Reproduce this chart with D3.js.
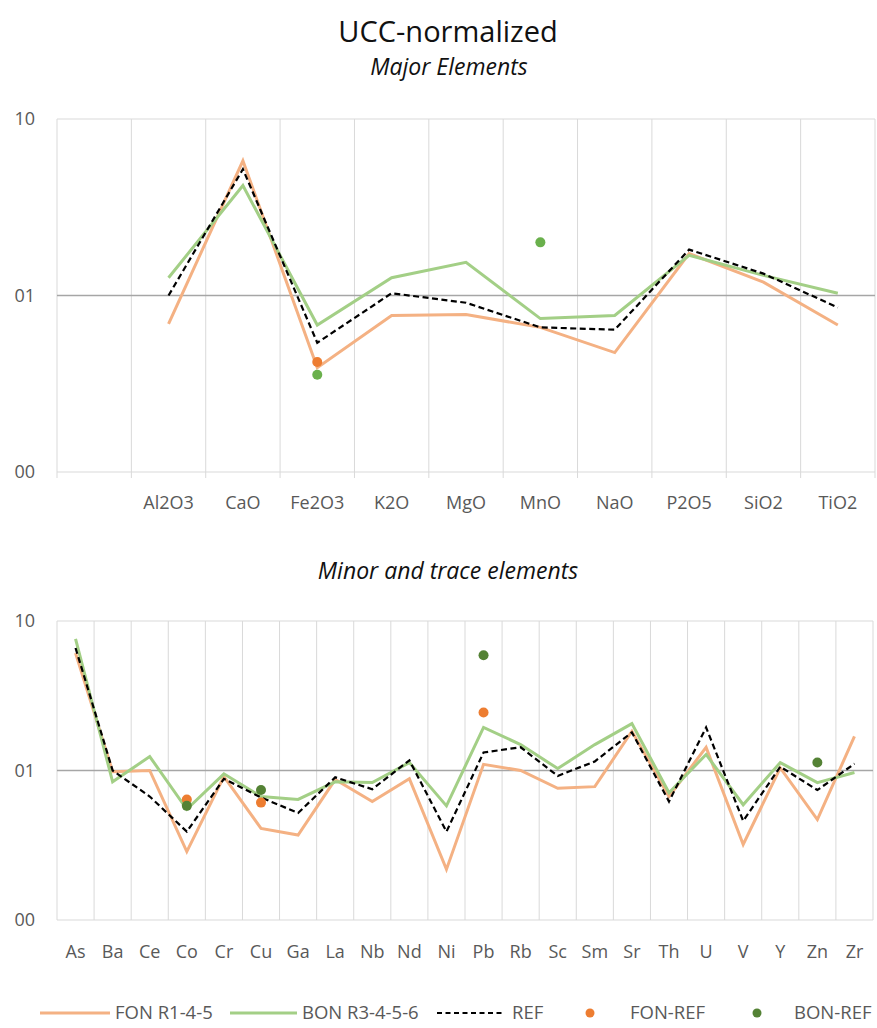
<!DOCTYPE html>
<html>
<head>
<meta charset="utf-8">
<script src="https://cdn.jsdelivr.net/npm/d3@7"></script>
<style>
  body { margin: 0; background: #fff; }
  svg { display: block; font-family: "Open Sans", sans-serif; }
</style>
</head>
<body>
<div id="chart"></div>
<script>
// Major elements (first category is an empty slot, as in the original sheet)
const majorCats = ["", "Al2O3", "CaO", "Fe2O3", "K2O", "MgO", "MnO", "NaO", "P2O5", "SiO2", "TiO2"];
const majorFon = [null, 0.69, 5.8, 0.39, 0.77, 0.78, 0.66, 0.475, 1.73, 1.19, 0.68];
const majorBon = [null, 1.26, 4.2, 0.68, 1.26, 1.54, 0.74, 0.77, 1.69, 1.3, 1.03];
const majorRef = [null, 1.0, 5.2, 0.54, 1.03, 0.91, 0.66, 0.64, 1.82, 1.33, 0.855];
const majorFonRef = [null, null, null, 0.42, null, null, null, null, null, null, null];
const majorBonRef = [null, null, null, 0.356, null, null, 2.0, null, null, null, null];

// Minor and trace elements
const traceCats = ["As", "Ba", "Ce", "Co", "Cr", "Cu", "Ga", "La", "Nb", "Nd", "Ni",
  "Pb", "Rb", "Sc", "Sm", "Sr", "Th", "U", "V", "Y", "Zn", "Zr"];
const traceFon = [6.1, 0.98, 1.0, 0.287, 0.91, 0.41, 0.37, 0.87, 0.62, 0.88, 0.218,
  1.1, 1.0, 0.76, 0.78, 1.83, 0.67, 1.43, 0.32, 1.04, 0.47, 1.69];
const traceBon = [7.6, 0.84, 1.24, 0.55, 0.95, 0.67, 0.64, 0.84, 0.83, 1.13, 0.58,
  1.94, 1.49, 1.03, 1.49, 2.06, 0.71, 1.28, 0.59, 1.13, 0.83, 0.97];
const traceRef = [6.6, 1.0, 0.67, 0.39, 0.88, 0.66, 0.52, 0.9, 0.75, 1.17, 0.39,
  1.32, 1.43, 0.92, 1.15, 1.8, 0.62, 1.94, 0.46, 1.06, 0.74, 1.11];
const traceFonRef = [null, null, null, 0.64, null, 0.61, null, null, null, null, null,
  2.44, null, null, null, null, null, null, null, null, null, null];
const traceBonRef = [null, null, null, 0.58, null, 0.74, null, null, null, null, null,
  5.9, null, null, null, null, null, null, null, null, 1.13, null];

const yTicks = [0.1, 1, 10];
const yTickLabels = ["00", "01", "10"];

const legendNames = ["FON R1-4-5", "BON R3-4-5-6", "REF", "FON-REF", "BON-REF"];

const colors = {
  fon: "#f4b183",
  bon: "#a3cf86",
  ref: "#000000",
  fonRef: "#ed7d31",
  bonRef: "#548235",
  bonRefTop: "#6ab04c",
  grid: "#d9d9d9",
  text: "#595959"
};

const W = 877, H = 1028;
const svg = d3.select("#chart").append("svg")
  .attr("width", W)
  .attr("height", H);

// Титулы
svg.append("text")
  .attr("x", 448).attr("y", 42)
  .attr("text-anchor", "middle")
  .style("font-size", "29px")
  .style("fill", "#111")
  .text("UCC-normalized");

svg.append("text")
  .attr("x", 449).attr("y", 75)
  .attr("text-anchor", "middle")
  .style("font-size", "23px")
  .style("font-style", "italic")
  .style("fill", "#111")
  .text("Major Elements");

svg.append("text")
  .attr("x", 448).attr("y", 579)
  .attr("text-anchor", "middle")
  .style("font-size", "23px")
  .style("font-style", "italic")
  .style("fill", "#111")
  .text("Minor and trace elements");

function drawPanel(opts) {
  const g = svg.append("g");
  const x = d3.scaleBand().domain(opts.cats).range([opts.left, opts.right]).padding(0);
  const y = d3.scaleLog().domain([0.1, 10]).range([opts.bottom, opts.top]);

  // vertical gridlines at category boundaries
  const bounds = opts.cats.map(c => x(c)).concat([opts.right]);
  g.selectAll(".vgrid")
    .data(bounds)
    .join("line")
    .attr("x1", d => d).attr("x2", d => d)
    .attr("y1", opts.top).attr("y2", opts.bottom + opts.tickExt)
    .style("stroke", colors.grid)
    .style("stroke-width", 1);

  // horizontal gridlines
  g.selectAll(".hgrid")
    .data(yTicks)
    .join("line")
    .attr("x1", opts.left).attr("x2", opts.right)
    .attr("y1", d => y(d)).attr("y2", d => y(d))
    .style("stroke", d => d === 1 ? "#a6a6a6" : colors.grid)
    .style("stroke-width", d => d === 1 ? 1.3 : 1);

  // y axis labels
  const yAxis = d3.axisLeft(y)
    .tickValues(yTicks)
    .tickFormat((d, i) => yTickLabels[i])
    .tickSize(0)
    .tickPadding(0);
  const ya = g.append("g")
    .attr("transform", `translate(${opts.left - 22},0)`)
    .call(yAxis);
  ya.select(".domain").remove();
  ya.selectAll("text")
    .style("font-size", "18px")
    .style("font-family", "Open Sans")
    .style("fill", colors.text);

  // x axis labels
  const xAxis = d3.axisBottom(x).tickSize(0).tickPadding(0);
  const xa = g.append("g")
    .attr("transform", `translate(0,${opts.labelY})`)
    .call(xAxis);
  xa.select(".domain").remove();
  xa.selectAll("text")
    .attr("dy", 0)
    .style("font-size", "18px")
    .style("font-family", "Open Sans")
    .style("fill", colors.text);

  const cx = i => x(opts.cats[i]) + x.bandwidth() / 2;
  const line = d3.line()
    .defined(d => d != null)
    .x((d, i) => cx(i))
    .y(d => y(d));

  g.append("path").datum(opts.fon)
    .attr("d", line)
    .style("fill", "none")
    .style("stroke", colors.fon)
    .style("stroke-width", 3);

  g.append("path").datum(opts.bon)
    .attr("d", line)
    .style("fill", "none")
    .style("stroke", colors.bon)
    .style("stroke-width", 3);

  g.append("path").datum(opts.ref)
    .attr("d", line)
    .style("fill", "none")
    .style("stroke", colors.ref)
    .style("stroke-width", 2.2)
    .style("stroke-dasharray", "6,3.5");

  const pts = (vals, color) => {
    g.selectAll(null)
      .data(vals.map((v, i) => ({ v, i })).filter(d => d.v != null))
      .join("circle")
      .attr("cx", d => cx(d.i))
      .attr("cy", d => y(d.v))
      .attr("r", 5)
      .style("fill", color);
  };
  pts(opts.fonRef, colors.fonRef);
  pts(opts.bonRef, opts.bonRefColor);
}

drawPanel({
  cats: majorCats, fon: majorFon, bon: majorBon, ref: majorRef,
  fonRef: majorFonRef, bonRef: majorBonRef, bonRefColor: colors.bonRefTop,
  left: 57, right: 875, top: 119, bottom: 472, labelY: 509, tickExt: 6
});

drawPanel({
  cats: traceCats, fon: traceFon, bon: traceBon, ref: traceRef,
  fonRef: traceFonRef, bonRef: traceBonRef, bonRefColor: colors.bonRef,
  left: 57, right: 873, top: 621, bottom: 920, labelY: 958, tickExt: 0
});

// Легенда
const legendY = 1013;
const lg = svg.append("g").style("font-size", "18.5px").style("fill", colors.text);
const lineItems = [
  { x: 40, w: 70, color: colors.fon, dash: null, tx: 115 },
  { x: 230, w: 67, color: colors.bon, dash: null, tx: 302 },
  { x: 437, w: 68, color: colors.ref, dash: "5,3.5", tx: 512 }
];
lineItems.forEach((d, i) => {
  lg.append("line")
    .attr("x1", d.x).attr("x2", d.x + d.w)
    .attr("y1", legendY).attr("y2", legendY)
    .style("stroke", d.color)
    .style("stroke-width", i === 2 ? 2.2 : 3)
    .style("stroke-dasharray", d.dash);
  lg.append("text")
    .attr("x", d.tx).attr("y", legendY + 6)
    .text(legendNames[i]);
});
const dotItems = [
  { x: 590, color: colors.fonRef, tx: 630 },
  { x: 757, color: colors.bonRef, tx: 794 }
];
dotItems.forEach((d, i) => {
  lg.append("circle")
    .attr("cx", d.x).attr("cy", legendY)
    .attr("r", 4.5)
    .style("fill", d.color);
  lg.append("text")
    .attr("x", d.tx).attr("y", legendY + 6)
    .text(legendNames[i + 3]);
});
</script>
</body>
</html>
